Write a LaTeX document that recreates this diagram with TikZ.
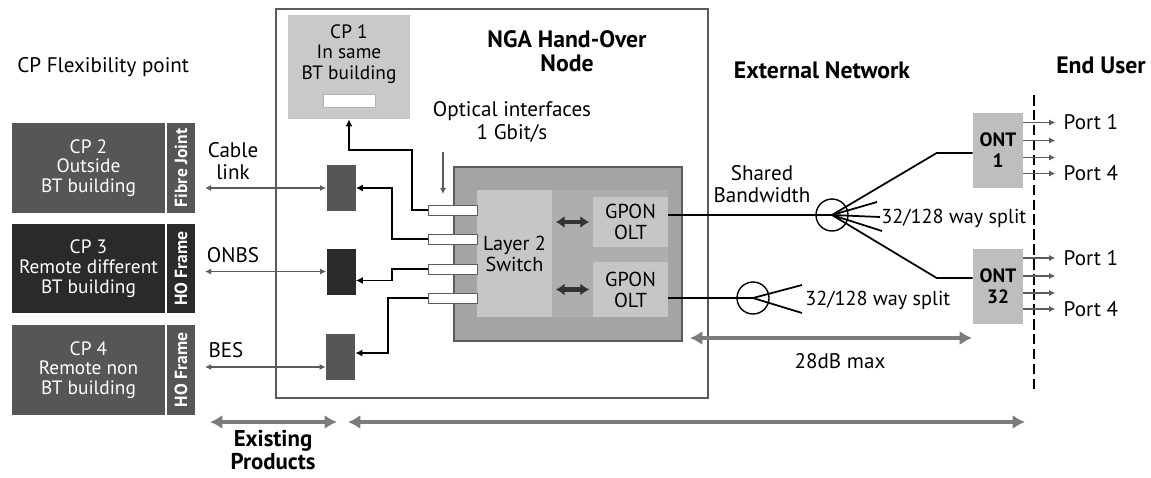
\documentclass[tikz,border=0pt]{standalone}
\usepackage{fontspec}
\setmainfont{PT Sans}
\usepackage{xcolor}
\usepackage{tikz}
\usetikzlibrary{arrows.meta,positioning,calc}
\definecolor{cpdark}{HTML}{565656}
\definecolor{cpblack}{HTML}{2A2A2A}
\definecolor{cplight}{HTML}{C9C9C9}
\definecolor{boxgray}{HTML}{A4A4A4}
\definecolor{panelgray}{HTML}{C6C6C6}
\definecolor{edgegray}{HTML}{5C5C5C}
\definecolor{arrowgray}{HTML}{7C7C7C}
\definecolor{ontgray}{HTML}{BEBEBE}

\tikzset{
  cpbox/.style={fill=#1,text=white,align=center,minimum width=3.06cm,minimum height=1.8cm,inner sep=0pt,
    font=\fontsize{11}{11.2}\selectfont},
  cpstrip/.style={fill=#1,text=white,rotate=90,minimum width=1.8cm,minimum height=0.56cm,inner sep=0pt,
    font=\fontsize{10}{10}\selectfont\bfseries},
  patch/.style={fill=#1,minimum width=0.58cm,minimum height=0.92cm,inner sep=0pt},
  port/.style={fill=white,draw=edgegray,minimum width=0.98cm,minimum height=0.2cm,inner sep=0pt},
  panel/.style={fill=panelgray,align=center,minimum width=1.5cm,inner sep=0pt,font=\fontsize{11.5}{12}\selectfont},
  ont/.style={fill=ontgray,align=center,minimum width=1.0cm,minimum height=1.5cm,inner sep=0pt,
    font=\fontsize{11}{12}\selectfont\bfseries},
  splitter/.style={circle,draw,thick,minimum size=0.64cm,inner sep=0pt},
  heading/.style={font=\fontsize{13.5}{14}\selectfont\bfseries,align=center},
  conn/.style={black,line width=1.1pt,-{Latex[length=4pt,width=4pt]}},
  linkarr/.style={edgegray,line width=0.9pt,{Latex[length=3.5pt,width=3.5pt]}-{Latex[length=3.5pt,width=3.5pt]}},
  thinarr/.style={edgegray,line width=0.9pt,-{Latex[length=3.5pt,width=3.5pt]}},
  bigarr/.style={arrowgray,line width=2.6pt,{Latex[length=7pt,width=8pt]}-{Latex[length=7pt,width=8pt]}},
  fibre/.style={black,line width=1pt}
}

\begin{document}
\fontsize{12}{12.5}\selectfont
\begin{tikzpicture}[x=0.02cm,y=-0.02cm]
  \useasboundingbox (0,0) rectangle (1151,477);

  % CP flexibility points
  \node[anchor=west] (cptitle) at (10,67) {CP Flexibility point};
  \node[cpbox=cpdark] (cp2) at (88.5,168) {CP 2\\Outside\\BT building};
  \node[cpstrip=cpdark] (fj) at (181,168) {Fibre Joint};
  \node[cpbox=cpblack] (cp3) at (88.5,268.5) {CP 3\\Remote different\\BT building};
  \node[cpstrip=cpblack] (ho3) at (181,268.5) {HO Frame};
  \node[cpbox=cpdark] (cp4) at (88.5,370) {CP 4\\Remote non\\BT building};
  \node[cpstrip=cpdark] (ho4) at (181,370) {HO Frame};

  % Hand-over node frame
  \node[draw=edgegray,line width=1.2pt,minimum width=8.64cm,minimum height=7.78cm] (nga) at (492,203.5) {};
  \node[heading] (ngatitle) at (567,51) {NGA Hand-Over\\Node};
  \node[fill=cplight,minimum width=2.44cm,minimum height=2.08cm] (cp1) at (349,67) {};
  \node[align=center,font=\fontsize{11}{11.6}\selectfont] (cp1txt) at (349,54) {CP 1\\In same\\BT building};
  \node[fill=white,draw=gray!60,minimum width=1.04cm,minimum height=0.26cm,inner sep=0pt] (slot) at (349,100.5) {};
  \node[align=center] (optif) at (512,122) {Optical interfaces\\[1pt]1 Gbit/s};

  % Patch panels
  \node[patch=cpdark] (pp1) at (341,188) {};
  \node[patch=cpblack] (pp2) at (341,271.5) {};
  \node[patch=cpdark] (pp3) at (340.5,357) {};
  \node (cable) at (233,161) [align=center] {Cable\\link};
  \node (onbs) at (233,255) {ONBS};
  \node (bes) at (226,350) {BES};
  \coordinate (lkx) at (205,0);
  \foreach \p/\dy in {pp1/0,pp2/0,pp3/-0.2} {
    \draw[linkarr] ([yshift=\dy cm]\p.west -| lkx) -- ([yshift=\dy cm]\p.west);
  }

  % Switch and OLTs
  \node[fill=boxgray,draw=edgegray,line width=1pt,minimum width=4.56cm,minimum height=3.48cm] (sw) at (568,254) {};
  \node[fill=boxgray!70!panelgray,minimum width=3.82cm,minimum height=2.54cm] (core) at (572.5,253.5) {};
  \node[panel,minimum height=2.54cm] (l2) at (514.5,253.5) {Layer 2\\Switch};
  \node[panel,minimum height=1.0cm] (olt1) at (630.5,222) {GPON\\OLT};
  \node[panel,minimum height=1.1cm] (olt2) at (630.5,289.5) {GPON\\OLT};
  \foreach \o in {olt1,olt2} {
    \draw[black!80,line width=2.6pt,{Latex[length=5pt,width=7pt]}-{Latex[length=5pt,width=7pt]},
      shorten <=2pt,shorten >=2pt] (\o.west -| l2.east) -- (\o.west);
  }
  \foreach \i/\y in {1/210,2/239,3/269,4/298} {
    \node[port] (p\i) at (452.5,\y) {};
  }
  \coordinate (oa) at (443,152);
  \draw[thinarr] (oa) -- (443,194);

  % Interface connections
  \coordinate (c1) at (412,150);
  \draw[conn] (p1.west) -| (c1) -| (cp1.south);
  \draw[conn] (p2.west) -| ([xshift=0.72cm]pp1.east) -- (pp1.east);
  \draw[conn] (p3.west) -| ([xshift=0.72cm,yshift=-0.18cm]pp2.east) -- ([yshift=-0.18cm]pp2.east);
  \draw[conn] (p4.west) -| ([xshift=0.66cm,yshift=0.08cm]pp3.east) -- ([yshift=0.08cm]pp3.east);

  % External network
  \node[heading] (ext) at (822,70) {External Network};
  \node[heading] (enduser) at (1101,65) {End User};
  \node[align=center] (shared) at (762,184) {Shared\\Bandwidth};
  \node[splitter] (sp1) at (832,215) {};
  \node[splitter] (sp2) at (753,298) {};
  \node[ont] (ont1) at (998,150.5) {ONT\\1};
  \node[ont] (ont32) at (998,286) {ONT\\32};
  \node[anchor=west,font=\fontsize{11.5}{12}\selectfont] (split1) at (874,218) {32/128 way split};
  \node[anchor=west,font=\fontsize{11.5}{12}\selectfont] (split2) at (798,300) {32/128 way split};

  \draw[fibre] (olt1.east |- sp1) -- (sp1.center);
  \draw[fibre] (olt2.east |- sp2) -- (sp2.center);
  \draw[fibre] (sp1.center) -- ([xshift=-0.72cm,yshift=-0.05cm]ont1.west) -- ([yshift=-0.05cm]ont1.west);
  \draw[fibre] (sp1.center) -- ([xshift=-0.72cm,yshift=0.16cm]ont32.west) -- ([yshift=0.16cm]ont32.west);
  \foreach \x/\y in {877/202,880/217,882/231} {
    \draw[fibre] (sp1.center) -- (\x,\y);
  }
  \foreach \x/\y in {802/285,802/313} {
    \draw[fibre] (sp2.center) -- (\x,\y);
  }

  % End user ports
  \coordinate (eutop) at (1034,95);
  \coordinate (eubot) at (1034,390);
  \draw[black,line width=1.4pt,dash pattern=on 6pt off 2.5pt] (eutop) -- (eubot);
  \foreach \o in {ont1,ont32} {
    \foreach \dy in {0.56,0.2,-0.14,-0.46} {
      \draw[thinarr] ([yshift=\dy cm]\o.east) -- ++(32,0);
    }
    \node[anchor=west] (\o p1) at ([xshift=0.66cm,yshift=0.56cm]\o.east) {Port 1};
    \node[anchor=west] (\o p4) at ([xshift=0.66cm,yshift=-0.46cm]\o.east) {Port 4};
  }

  % Range arrows
  \coordinate (db1) at (690,338);
  \coordinate (db2) at (972,338);
  \draw[bigarr] (db1) -- (db2);
  \node (budget) at (840,361) {28dB max};
  \coordinate (ex1) at (210,422);
  \coordinate (ex2) at (337,422);
  \draw[bigarr] (ex1) -- (ex2);
  \node[heading,font=\fontsize{13}{13}\selectfont\bfseries] (exist) at (273,450) {Existing\\Products};
  \coordinate (lg1) at (348,422);
  \coordinate (lg2) at (1025,422);
  \draw[bigarr] (lg1) -- (lg2);
\end{tikzpicture}
\end{document}
